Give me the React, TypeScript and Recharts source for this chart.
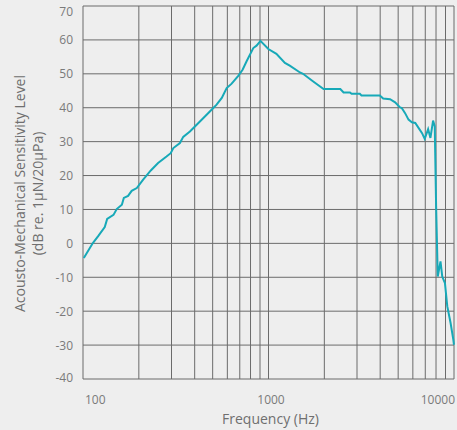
import React from 'react';
import { LineChart, Line, XAxis, YAxis, CartesianGrid } from 'recharts';

const frequencies = [
  101, 113, 121, 131, 135, 146, 152, 162, 166, 175, 183, 195, 211, 232, 254, 282, 297, 307, 333, 347,
  377, 410, 454, 504, 525, 560, 595, 633, 687, 725, 762, 828, 862, 905, 998, 1103, 1226, 1302, 1478,
  1535, 1735, 1981, 2439, 2539, 2749, 2806, 3107, 3171, 3983, 4152, 4521, 4816, 5088, 5228, 5450,
  5686, 5930, 6185, 6451, 6728, 6952, 7253, 7463, 7714, 7875, 8009, 8175, 8457, 8643, 8936, 9201,
  9585, 9914, 10000,
];

const sensitivity = [
  -4.3, 0.1, 2.2, 4.8, 7.2, 8.4, 10.1, 11.4, 13.4, 14.0, 15.5, 16.3, 18.8, 21.5, 23.7, 25.6, 26.6, 28.1, 29.6, 31.4,
  33.0, 35.0, 37.4, 39.9, 40.9, 42.9, 45.8, 47.1, 49.4, 51.2, 53.7, 57.6, 58.3, 59.7, 57.3, 55.9, 53.2, 52.4, 50.4,
  50.0, 47.8, 45.5, 45.5, 44.5, 44.5, 44.1, 44.1, 43.6, 43.6, 42.7, 42.5, 41.6, 40.2, 39.9, 38.4,
  36.5, 35.7, 35.5, 34.0, 32.5, 30.8, 33.7, 31.1, 36.2, 34.5, 10.9, -9.8, -5.3, -9.8, -11.7, -18.6,
  -23.5, -28.4, -29.9,
];

const xTicks = [100, 200, 300, 400, 500, 600, 700, 800, 900, 1000, 2000, 3000, 4000, 5000, 6000, 7000, 8000, 9000, 10000];
const xLabels = [100, 1000, 10000];
const yTicks = [-40, -30, -20, -10, 0, 10, 20, 30, 40, 50, 60, 70];

const xTitle = 'Frequency (Hz)';
const yTitle1 = 'Acousto-Mechanical Sensitivity Level';
const yTitle2 = '(dB re. 1μN/20μPa)';

const data = frequencies.map((f, i) => ({ f, v: sensitivity[i] }));

const FONT = '"Open Sans", sans-serif';

const XTick = (props: any) => {
  const { x, y, payload } = props;
  const val = payload.value;
  if (!xLabels.includes(val)) return <g />;
  const idx = xLabels.indexOf(val);
  const anchor = idx === 0 ? 'start' : idx === xLabels.length - 1 ? 'end' : 'middle';
  const dx = idx === 0 ? 2 : idx === xLabels.length - 1 ? 1 : 2.5;
  return (
    <text x={x + dx} y={y} dy="0.71em" textAnchor={anchor} fill="#7a7a7a" fontSize={12} fontFamily={FONT}>
      {val}
    </text>
  );
};

const YTick = (props: any) => {
  const { x, y, payload } = props;
  const val = payload.value;
  const first = yTicks[0];
  const last = yTicks[yTicks.length - 1];
  const shift = val === last ? 5 : val === first ? -2 : 0;
  return (
    <text x={x} y={y + shift} textAnchor="end" dominantBaseline="central" fill="#7a7a7a" fontSize={12} fontFamily={FONT}>
      {val}
    </text>
  );
};

const YLabel = (props: any) => {
  const vb = props.viewBox || { x: 0, y: 6, width: 83, height: 373 };
  const cy = vb.y + vb.height / 2 + 1;
  const x1 = vb.x + 19;
  const x2 = vb.x + 37;
  return (
    <g>
      <text x={x1} y={cy} transform={`rotate(-90, ${x1}, ${cy})`} textAnchor="middle" dominantBaseline="central" fill="#6f6f6f" fontSize={14} fontFamily={FONT}>
        {yTitle1}
      </text>
      <text x={x2} y={cy} transform={`rotate(-90, ${x2}, ${cy})`} textAnchor="middle" dominantBaseline="central" fill="#6f6f6f" fontSize={14} fontFamily={FONT}>
        {yTitle2}
      </text>
    </g>
  );
};

const XLabel = (props: any) => {
  const vb = props.viewBox || { x: 83, y: 379, width: 371, height: 51 };
  const cx = vb.x + vb.width / 2 + 2;
  return (
    <text x={cx} y={vb.y + 39} textAnchor="middle" dominantBaseline="central" fill="#6f6f6f" fontSize={14} fontFamily={FONT}>
      {xTitle}
    </text>
  );
};

export default function App() {
  return (
    <div style={{ position: 'absolute', left: 0, top: 0, width: 457, height: 430, background: '#eeeeee' }}>
      <LineChart width={457} height={430} data={data} margin={{ top: 6, right: 3, left: 0, bottom: 0 }}>
        <CartesianGrid stroke="#6b6b6b" strokeWidth={1} />
        <XAxis
          dataKey="f"
          type="number"
          scale="log"
          domain={[100, 10000]}
          ticks={xTicks}
          interval={0}
          axisLine={false}
          tickLine={false}
          tickSize={0}
          tickMargin={16}
          height={51}
          tick={<XTick />}
          label={<XLabel />}
        />
        <YAxis
          type="number"
          domain={[-40, 70]}
          ticks={yTicks}
          interval={0}
          axisLine={false}
          tickLine={false}
          tickSize={0}
          tickMargin={10}
          width={83}
          tick={<YTick />}
          label={<YLabel />}
        />
        <Line
          type="linear"
          dataKey="v"
          stroke="#17a9b8"
          strokeWidth={2}
          dot={false}
          isAnimationActive={false}
        />
      </LineChart>
    </div>
  );
}
